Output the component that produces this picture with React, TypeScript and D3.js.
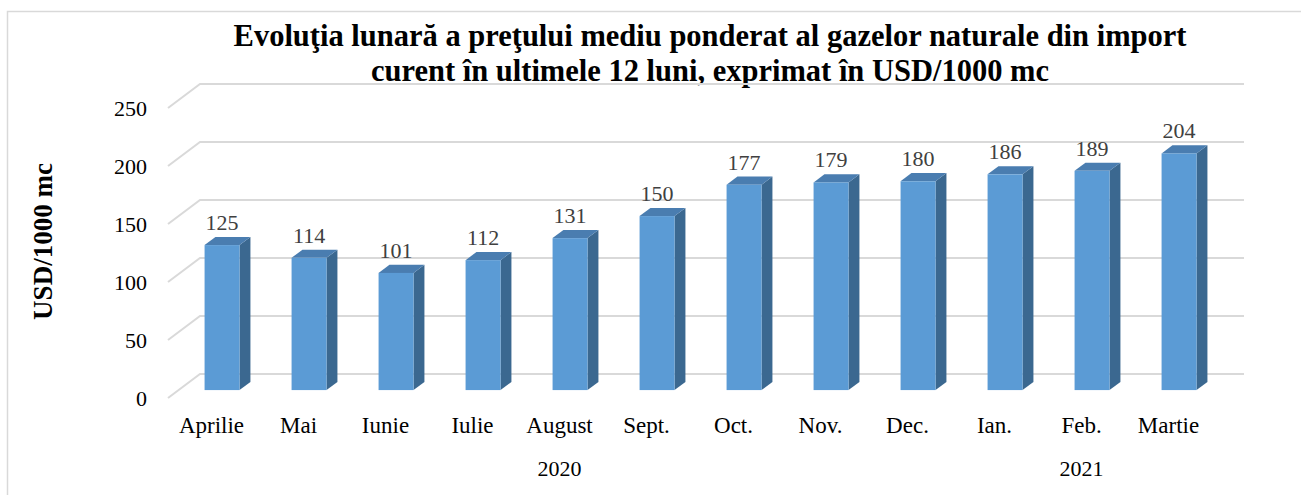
import * as d3 from 'd3'

const MONTHS = ['Aprilie', 'Mai', 'Iunie', 'Iulie', 'August', 'Sept.', 'Oct.', 'Nov.', 'Dec.', 'Ian.', 'Feb.', 'Martie']
const PRICES = [125, 114, 101, 112, 131, 150, 177, 179, 180, 186, 189, 204]
const YEARS = [
  { label: '2020', from: 'Aprilie', to: 'Dec.' },
  { label: '2021', from: 'Ian.', to: 'Martie' },
]
const Y_TICKS = [0, 50, 100, 150, 200, 250]
const TITLE = [
  'Evoluţia lunară a preţului mediu ponderat al gazelor naturale din import',
  'curent în ultimele 12 luni, exprimat în USD/1000 mc',
]
const Y_TITLE = 'USD/1000 mc'

const W = 1301
const H = 495
// depth vector of the 3D box (front plane -> back wall)
const DX = 32
const DY = -24
const BAR_F0 = 0.33 // bar front face depth
const BAR_F1 = 0.67 // bar back face depth
const FONT = '"Liberation Serif", "Times New Roman", serif'

const GRID = '#d9d9d9'
const FRONT = '#5b9bd5'
const TOP = '#4a7db0'
const SIDE = '#3b6890'

export default function App() {
  const x = d3.scaleBand<string>()
    .domain(MONTHS)
    .range([168, 1212])
    .paddingInner(0.598)
    .paddingOuter(0.299)
  const y = d3.scaleLinear().domain([0, 250]).range([398, 108])

  const x0 = 168
  const x1 = 1212

  const bars = MONTHS.map((m, i) => {
    const v = PRICES[i]
    const bx = (x(m) ?? 0) + DX * BAR_F0
    const bw = x.bandwidth()
    const yb = y(0) + DY * BAR_F0
    const yt = y(v) + DY * BAR_F0
    const ddx = DX * (BAR_F1 - BAR_F0)
    const ddy = DY * (BAR_F1 - BAR_F0)
    return { m, v, bx, bw, yb, yt, ddx, ddy }
  })

  return (
    <svg width={W} height={H} style={{ position: 'absolute', left: 0, top: 0, background: '#fff' }}>
      <rect x={7.5} y={11.5} width={1300} height={500} fill="#fff" stroke="#d9d9d9" strokeWidth={1.5} />

      {TITLE.map((t, i) => (
        <text key={i} x={710} y={46 + i * 35} textAnchor="middle" fontFamily={FONT}
          fontWeight="bold" fontSize={30.5} fill="#000">{t}</text>
      ))}

      <text transform={`translate(52, 241.5) rotate(-90)`} textAnchor="middle" fontFamily={FONT}
        fontWeight="bold" fontSize={27} fill="#000">{Y_TITLE}</text>

      {/* gridlines: side wall diagonal + back wall */}
      {Y_TICKS.map(t => (
        <g key={t}>
          <polyline
            points={`${x0},${y(t)} ${x0 + DX},${y(t) + DY} ${x1 + DX},${y(t) + DY}`}
            fill="none" stroke={GRID} strokeWidth={2} />
          <text x={147} y={y(t)} dy="0.35em" textAnchor="end" fontFamily={FONT}
            fontSize={22} fill="#000">{t}</text>
        </g>
      ))}

      {/* bars */}
      {bars.map(b => (
        <g key={b.m}>
          <polygon
            points={`${b.bx + b.bw},${b.yb} ${b.bx + b.bw + b.ddx},${b.yb + b.ddy} ${b.bx + b.bw + b.ddx},${b.yt + b.ddy} ${b.bx + b.bw},${b.yt}`}
            fill={SIDE} />
          <polygon
            points={`${b.bx},${b.yt} ${b.bx + b.ddx},${b.yt + b.ddy} ${b.bx + b.bw + b.ddx},${b.yt + b.ddy} ${b.bx + b.bw},${b.yt}`}
            fill={TOP} />
          <rect x={b.bx} y={b.yt} width={b.bw} height={b.yb - b.yt} fill={FRONT} />
          <text x={b.bx + b.bw / 2} y={b.yt - 15} textAnchor="middle" fontFamily={FONT}
            fontSize={22} fill="#404040">{b.v}</text>
        </g>
      ))}

      {/* category labels */}
      {MONTHS.map(m => (
        <text key={m} x={(x(m) ?? 0) + x.bandwidth() / 2} y={433} textAnchor="middle"
          fontFamily={FONT} fontSize={23} fill="#000">{m}</text>
      ))}
      {YEARS.map(g => {
        const a = (x(g.from) ?? 0) + x.bandwidth() / 2
        const b = (x(g.to) ?? 0) + x.bandwidth() / 2
        return (
          <text key={g.label} x={(a + b) / 2} y={476} textAnchor="middle"
            fontFamily={FONT} fontSize={22} fill="#000">{g.label}</text>
        )
      })}
    </svg>
  )
}
